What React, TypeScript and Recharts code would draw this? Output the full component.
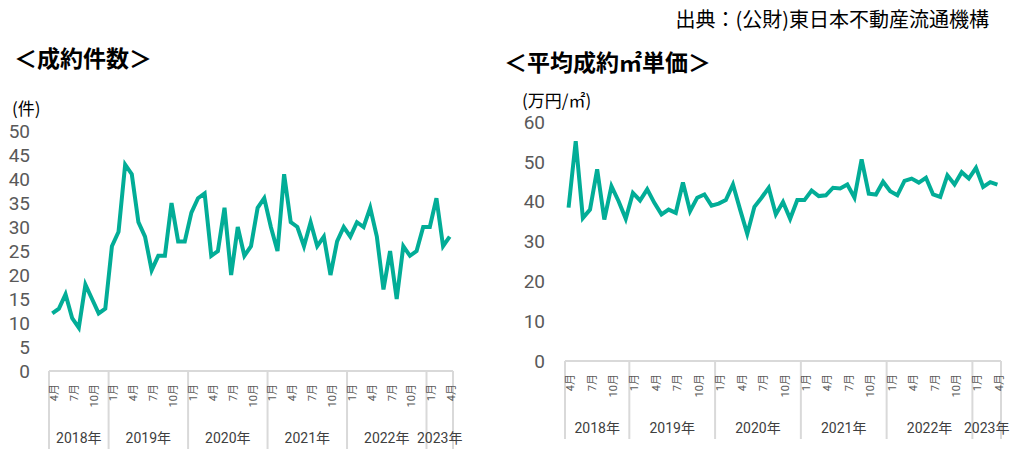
import { LineChart, Line, XAxis, YAxis } from 'recharts';

// 2018年4月〜2023年4月（月次）
const periods = [
  '2018/4', '2018/5', '2018/6', '2018/7', '2018/8', '2018/9', '2018/10', '2018/11', '2018/12',
  '2019/1', '2019/2', '2019/3', '2019/4', '2019/5', '2019/6', '2019/7', '2019/8', '2019/9', '2019/10', '2019/11', '2019/12',
  '2020/1', '2020/2', '2020/3', '2020/4', '2020/5', '2020/6', '2020/7', '2020/8', '2020/9', '2020/10', '2020/11', '2020/12',
  '2021/1', '2021/2', '2021/3', '2021/4', '2021/5', '2021/6', '2021/7', '2021/8', '2021/9', '2021/10', '2021/11', '2021/12',
  '2022/1', '2022/2', '2022/3', '2022/4', '2022/5', '2022/6', '2022/7', '2022/8', '2022/9', '2022/10', '2022/11', '2022/12',
  '2023/1', '2023/2', '2023/3', '2023/4',
];

// 成約件数
const counts = [
  12, 13, 16, 11, 9, 18, 15, 12, 13,
  26, 29, 43, 41, 31, 28, 21, 24, 24, 35, 27, 27,
  33, 36, 37, 24, 25, 34, 20, 30, 24, 26, 34, 36,
  30, 25, 41, 31, 30, 26, 31, 26, 28, 20, 27, 30,
  28, 31, 30, 34, 28, 17, 25, 15, 26, 24, 25, 30,
  30, 36, 26, 28,
];

// 平均成約㎡単価（万円/㎡）
const unitPrices = [
  38.5, 55.2, 35.9, 38.0, 48.1, 35.5, 43.9, 40.1, 35.7,
  42.2, 40.3, 43.1, 39.7, 36.8, 38.0, 37.2, 44.8, 37.6, 41.0, 41.8, 39.0,
  39.5, 40.4, 44.3, 38.0, 31.9, 38.7, 41.0, 43.5, 36.8, 39.9, 35.7, 40.4,
  40.4, 42.8, 41.4, 41.6, 43.5, 43.3, 44.3, 41.0, 50.6, 42.0, 41.8, 45.0,
  42.6, 41.6, 45.2, 45.8, 44.8, 46.0, 41.8, 41.2, 46.6, 44.3, 47.4, 45.8,
  48.5, 43.7, 44.9, 44.3,
];

const years = ['2018', '2019', '2020', '2021', '2022', '2023'];
const labelMonths = [1, 4, 7, 10];
const countTicks = [0, 5, 10, 15, 20, 25, 30, 35, 40, 45, 50];
const priceTicks = [0, 10, 20, 30, 40, 50, 60];

const LINE_COLOR = '#02AD97';
const GRID_COLOR = '#d9d9d9';
const LABEL_COLOR = '#595959';
const JP_FONT = '"Noto Sans CJK JP", "Noto Sans", sans-serif';
const NUM_FONT = 'Roboto, "Noto Sans CJK JP", sans-serif';

const data = periods.map((p, i) => {
  const [y, m] = p.split('/');
  return { t: i, year: y, month: Number(m), count: counts[i], price: unitPrices[i] };
});

const lastIndex = data.length - 1;
const domain: [number, number] = [-0.5, lastIndex + 0.5];
const monthTicks = data.filter((d) => labelMonths.includes(d.month)).map((d) => d.t);
const yearSpans = years.map((y) => {
  const idx = data.filter((d) => d.year === y).map((d) => d.t);
  return { year: y, first: idx[0], last: idx[idx.length - 1] };
});
const boundaries = [...yearSpans.map((s) => s.first - 0.5), lastIndex + 0.5];
const yearCenters = yearSpans.map((s) => (s.first + s.last) / 2);

// 年の区切り線（軸から下へ）
const DividerTick = (props: any) => {
  const { x, y } = props;
  return <line x1={x} x2={x} y1={y} y2={y + 78} stroke={GRID_COLOR} strokeWidth={2} />;
};

const MonthTick = (props: any) => {
  const { x, y, payload } = props;
  const d = data[Math.round(payload.value)];
  return (
    <text
      transform={`translate(${x + 2},${y + 1}) rotate(-90)`}
      textAnchor="end"
      dominantBaseline="central"
      fontSize={11}
      fontFamily={NUM_FONT}
      fill={LABEL_COLOR}
    >
      {d.month}月
    </text>
  );
};

const YearTick = (props: any) => {
  const { x, y, payload } = props;
  const i = yearCenters.indexOf(payload.value);
  return (
    <text x={x} y={y + 19} textAnchor="middle" dominantBaseline="central" fontSize={14} fontFamily={NUM_FONT} fill="#404040">
      {yearSpans[i].year}年
    </text>
  );
};

interface PanelProps {
  dataKey: string;
  yTicks: number[];
  width: number;
  top: number;
  yWidth: number;
  right: number;
  yearHeight: number;
  tickGap: number;
}

const Panel = ({ dataKey, yTicks, width, top, yWidth, right, yearHeight, tickGap }: PanelProps) => (
  <LineChart width={width} height={460} data={data} margin={{ top, right, bottom: 0, left: 0 }}>
    <YAxis
      type="number"
      domain={[0, yTicks[yTicks.length - 1]]}
      ticks={yTicks}
      interval={0}
      width={yWidth}
      axisLine={false}
      tickLine={false}
      tickSize={0}
      tickMargin={tickGap}
      tick={{ fill: LABEL_COLOR, fontSize: 19, fontFamily: NUM_FONT }}
    />
    <XAxis
      xAxisId="div"
      type="number"
      dataKey="t"
      domain={domain}
      ticks={boundaries}
      interval={0}
      height={12}
      tickSize={0}
      tickMargin={0}
      tickLine={false}
      tick={<DividerTick />}
      axisLine={{ stroke: GRID_COLOR, strokeWidth: 2 }}
    />
    <XAxis
      xAxisId="month"
      type="number"
      dataKey="t"
      domain={domain}
      ticks={monthTicks}
      interval={0}
      height={36}
      axisLine={false}
      tickLine={false}
      tickSize={0}
      tickMargin={0}
      tick={<MonthTick />}
    />
    <XAxis
      xAxisId="year"
      type="number"
      dataKey="t"
      domain={domain}
      ticks={yearCenters}
      interval={0}
      height={yearHeight}
      axisLine={false}
      tickLine={false}
      tickSize={0}
      tickMargin={0}
      tick={<YearTick />}
    />
    <Line
      xAxisId="month"
      type="linear"
      dataKey={dataKey}
      stroke={LINE_COLOR}
      strokeWidth={4}
      dot={false}
      isAnimationActive={false}
    />
  </LineChart>
);

const textStyle = (left: number, top: number, size: number, bold = false) => ({
  position: 'absolute' as const,
  left,
  top,
  fontSize: size,
  lineHeight: 1,
  fontWeight: bold ? 700 : 400,
  fontFamily: JP_FONT,
  color: '#000',
  whiteSpace: 'nowrap' as const,
});

export default function App() {
  return (
    <div style={{ position: 'absolute', left: 0, top: 0, width: 1020, height: 460, background: '#fff', overflow: 'hidden' }}>
      <div style={{ ...textStyle(0, 9, 20), left: undefined, right: 31 }}>出典：(公財)東日本不動産流通機構</div>
      <div style={textStyle(14, 46, 23, true)}>＜成約件数＞</div>
      <div style={textStyle(504, 50, 23, true)}>＜平均成約㎡単価＞</div>
      <div style={textStyle(12, 99, 17)}>(件)</div>
      <div style={textStyle(522, 91, 17)}>(万円/㎡)</div>

      <div style={{ position: 'absolute', left: 0, top: 0 }}>
        <Panel dataKey="count" yTicks={countTicks} width={470} top={131} yWidth={49} right={17} yearHeight={41} tickGap={19} />
      </div>
      <div style={{ position: 'absolute', left: 500, top: 0 }}>
        <Panel dataKey="price" yTicks={priceTicks} width={520} top={122} yWidth={65} right={19} yearHeight={51} tickGap={20} />
      </div>
    </div>
  );
}
